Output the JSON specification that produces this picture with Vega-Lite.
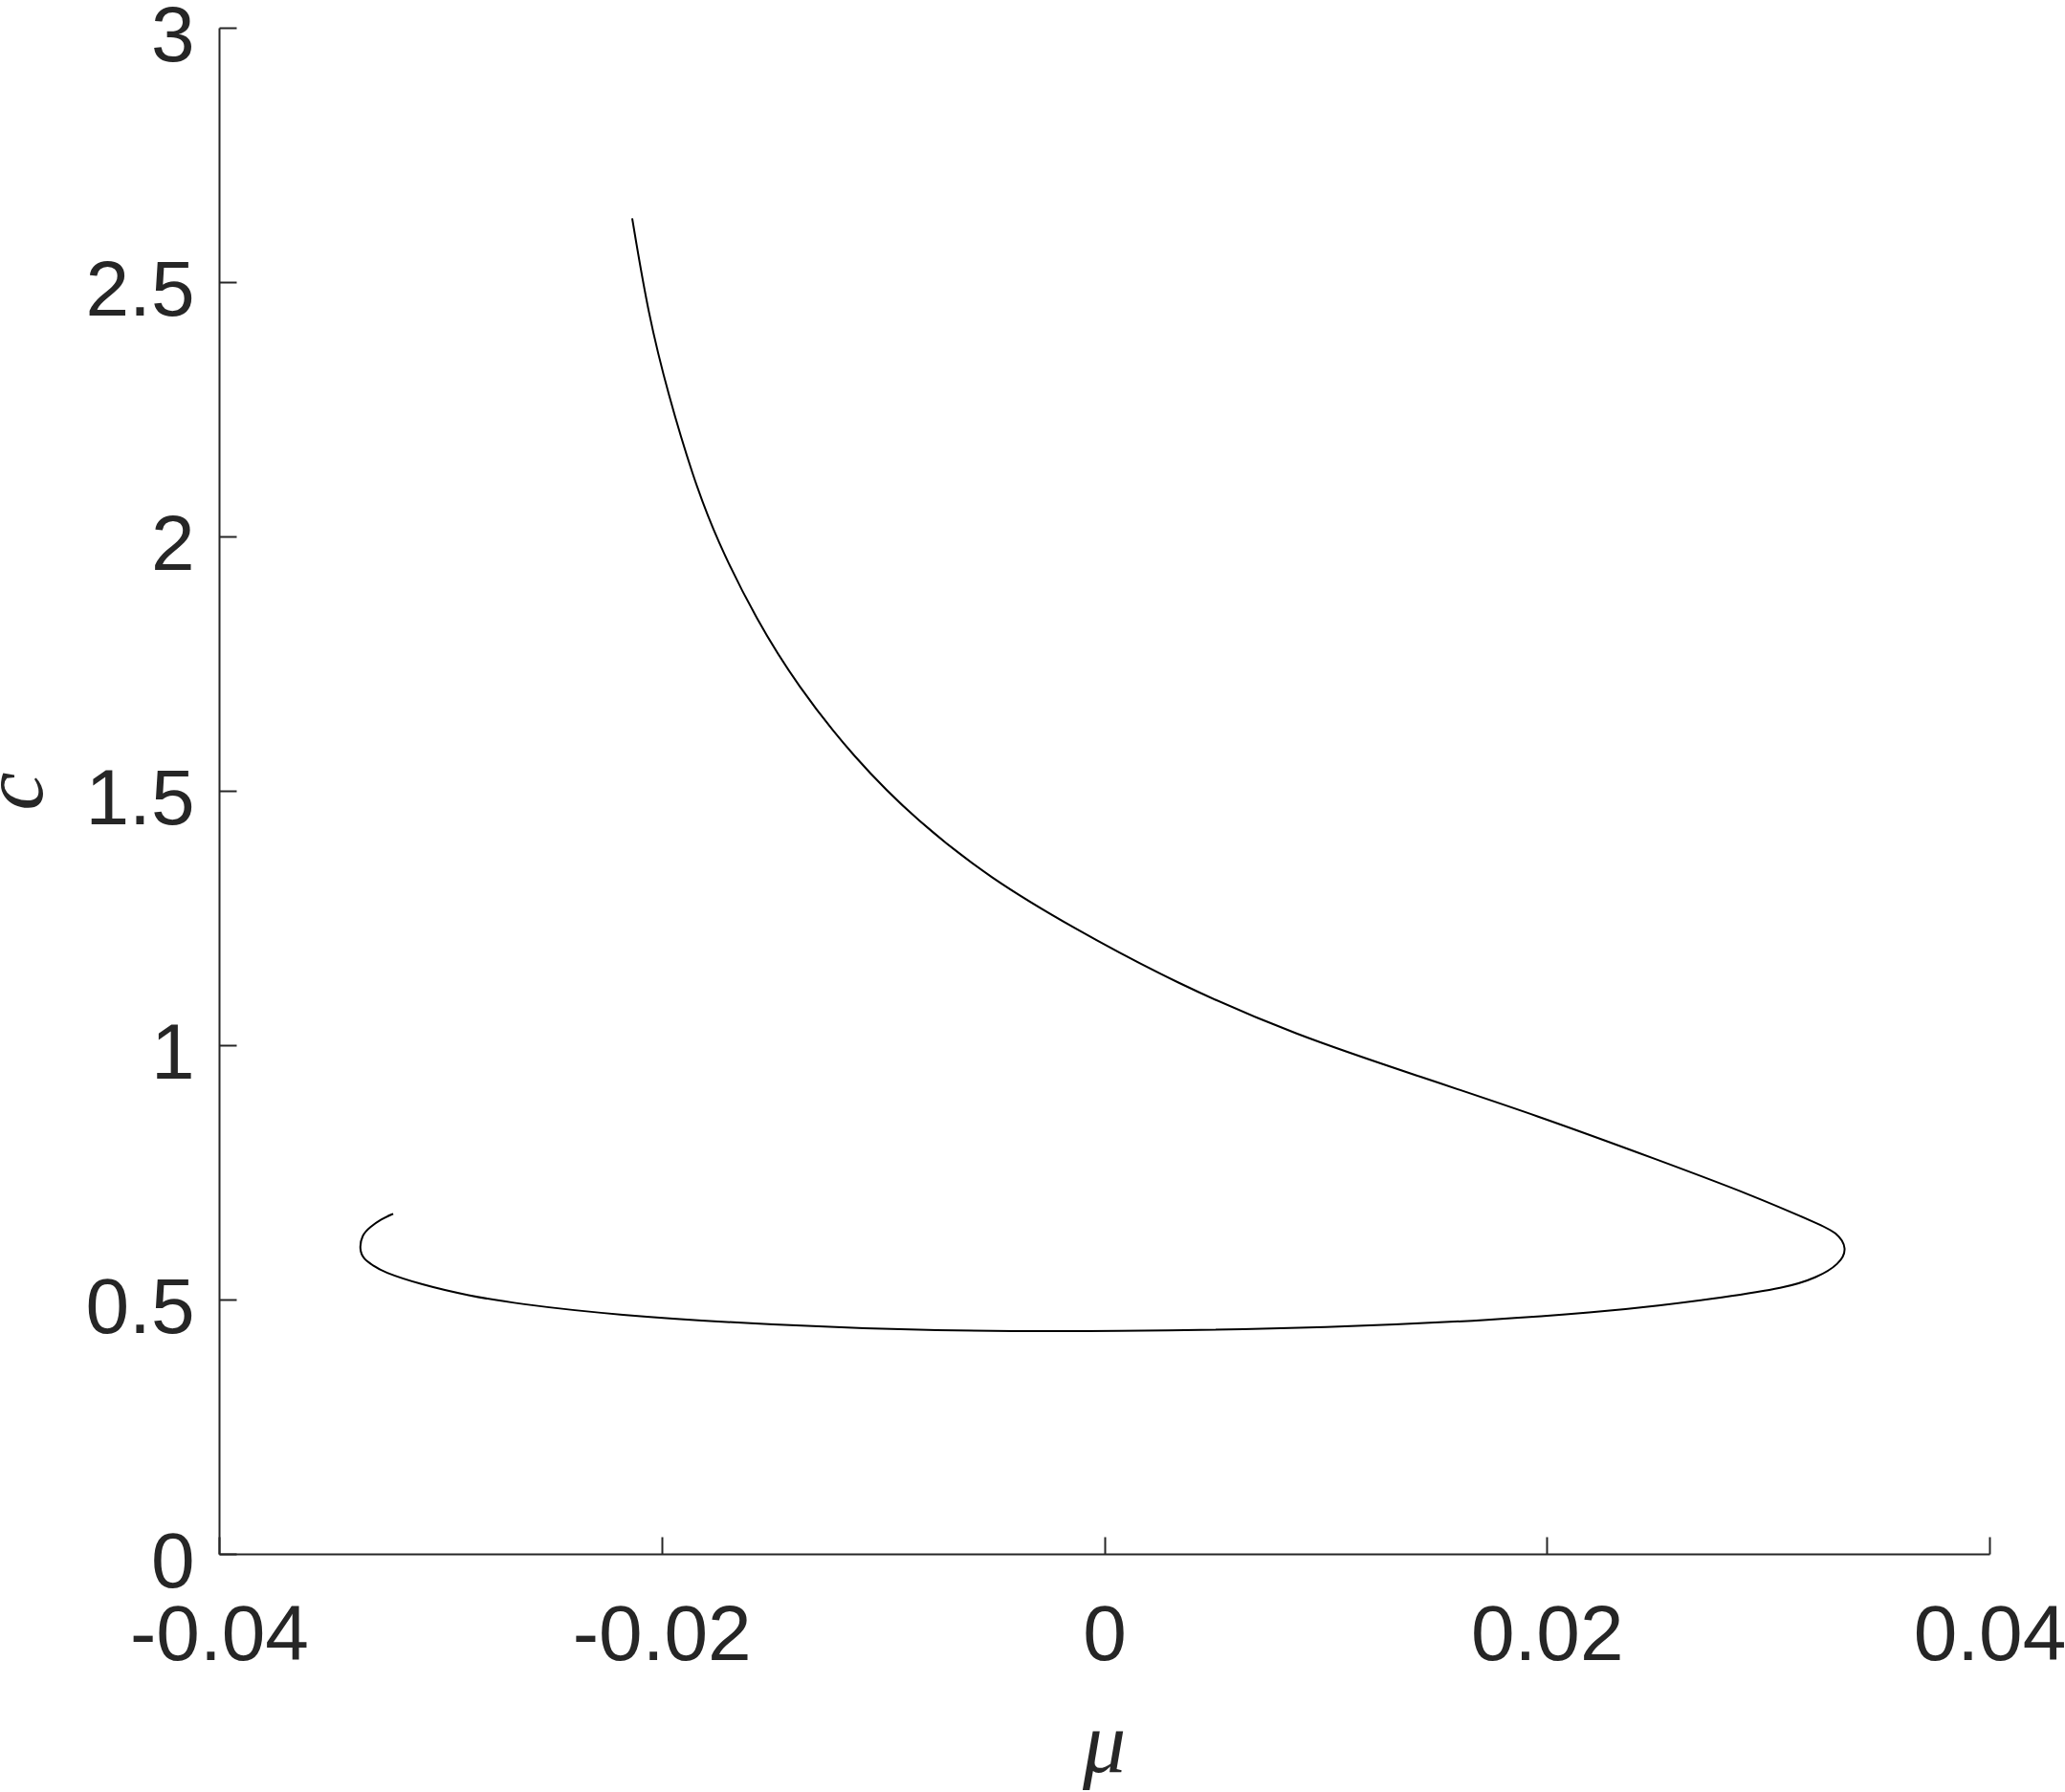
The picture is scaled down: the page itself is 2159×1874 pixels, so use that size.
{
  "$schema": "https://vega.github.io/schema/vega-lite/v6.json",
  "width": 1851,
  "height": 1596,
  "autosize": "none",
  "padding": {"left": 229, "top": 29, "right": 79, "bottom": 249},
  "background": "white",
  "config": {"view": {"stroke": null}},
  "data": {"values": [
    {"i": 1, "mu": -0.02133, "c": 2.6252},
    {"i": 2, "mu": -0.02060, "c": 2.4353},
    {"i": 3, "mu": -0.01969, "c": 2.2771},
    {"i": 4, "mu": -0.01860, "c": 2.1188},
    {"i": 5, "mu": -0.01751, "c": 1.9923},
    {"i": 6, "mu": -0.01569, "c": 1.8340},
    {"i": 7, "mu": -0.01387, "c": 1.7073},
    {"i": 8, "mu": -0.01132, "c": 1.5650},
    {"i": 9, "mu": -0.00841, "c": 1.4384},
    {"i": 10, "mu": -0.00513, "c": 1.3276},
    {"i": 11, "mu": -0.00150, "c": 1.2327},
    {"i": 12, "mu": 0.00323, "c": 1.1218},
    {"i": 13, "mu": 0.00869, "c": 1.0190},
    {"i": 14, "mu": 0.01415, "c": 0.9399},
    {"i": 15, "mu": 0.01961, "c": 0.8609},
    {"i": 16, "mu": 0.02506, "c": 0.7739},
    {"i": 17, "mu": 0.02943, "c": 0.7026},
    {"i": 18, "mu": 0.03234, "c": 0.6472},
    {"i": 19, "mu": 0.03309, "c": 0.6325},
    {"i": 20, "mu": 0.03360, "c": 0.6006},
    {"i": 21, "mu": 0.03322, "c": 0.5695},
    {"i": 22, "mu": 0.03222, "c": 0.5432},
    {"i": 23, "mu": 0.03078, "c": 0.5226},
    {"i": 24, "mu": 0.02790, "c": 0.5038},
    {"i": 25, "mu": 0.02506, "c": 0.4878},
    {"i": 26, "mu": 0.02214, "c": 0.4746},
    {"i": 27, "mu": 0.01779, "c": 0.4605},
    {"i": 28, "mu": 0.01051, "c": 0.4447},
    {"i": 29, "mu": 0.00032, "c": 0.4367},
    {"i": 30, "mu": -0.00769, "c": 0.4383},
    {"i": 31, "mu": -0.01496, "c": 0.4494},
    {"i": 32, "mu": -0.02224, "c": 0.4699},
    {"i": 33, "mu": -0.02656, "c": 0.4919},
    {"i": 34, "mu": -0.02872, "c": 0.5075},
    {"i": 35, "mu": -0.03088, "c": 0.5295},
    {"i": 36, "mu": -0.03261, "c": 0.5545},
    {"i": 37, "mu": -0.03304, "c": 0.5671},
    {"i": 38, "mu": -0.03347, "c": 0.5795},
    {"i": 39, "mu": -0.03366, "c": 0.5983},
    {"i": 40, "mu": -0.03355, "c": 0.6265},
    {"i": 41, "mu": -0.03318, "c": 0.6423},
    {"i": 42, "mu": -0.03268, "c": 0.6579},
    {"i": 43, "mu": -0.03213, "c": 0.6686}
  ]},
  "mark": {"type": "line", "color": "black", "strokeWidth": 2, "interpolate": "basis", "clip": false},
  "encoding": {
    "x": {
      "field": "mu", "type": "quantitative",
      "scale": {"domain": [-0.04, 0.04], "nice": false, "zero": false},
      "axis": {
        "values": [-0.04, -0.02, 0, 0.02, 0.04],
        "labelExpr": "datum.value < 0 ? '-' + format(abs(datum.value), '.2f') : (datum.value == 0 ? '0' : format(datum.value, '.2f'))",
        "grid": false,
        "domainColor": "#262626", "domainWidth": 2,
        "tickColor": "#262626", "tickWidth": 2, "tickSize": -18,
        "labelFont": "Liberation Sans", "labelFontSize": 82, "labelColor": "#262626",
        "labelBaseline": "alphabetic", "labelPadding": 128, "labelLimit": 0,
        "labelOverlap": false, "labelFlush": false, "labelBound": false,
        "title": "μ",
        "titleFont": "Liberation Serif", "titleFontStyle": "italic", "titleFontWeight": "normal",
        "titleFontSize": 90, "titleColor": "#262626",
        "titleBaseline": "alphabetic", "titleY": 227, "titleX": 925
      }
    },
    "y": {
      "field": "c", "type": "quantitative",
      "scale": {"domain": [0, 3], "nice": false, "zero": false},
      "axis": {
        "values": [0, 0.5, 1, 1.5, 2, 2.5, 3],
        "labelExpr": "toString(datum.value)",
        "grid": false,
        "domainColor": "#262626", "domainWidth": 2,
        "tickColor": "#262626", "tickWidth": 2, "tickSize": -18,
        "labelFont": "Liberation Sans", "labelFontSize": 82, "labelColor": "#262626",
        "labelBaseline": "alphabetic", "labelOffset": 34, "labelPadding": 44, "labelLimit": 0,
        "labelOverlap": false, "labelFlush": false, "labelBound": false,
        "title": "c",
        "titleFont": "Liberation Serif", "titleFontStyle": "italic", "titleFontWeight": "normal",
        "titleFontSize": 90, "titleColor": "#262626",
        "titleBaseline": "alphabetic", "titleX": -186, "titleY": 798, "titleAngle": 270
      }
    },
    "order": {"field": "i", "type": "quantitative"}
  }
}
